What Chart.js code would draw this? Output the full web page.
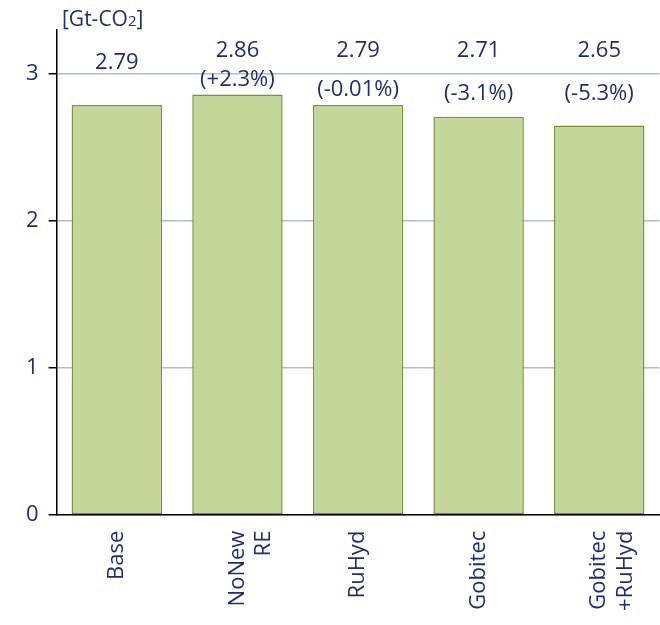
<!DOCTYPE html>
<html>
<head>
<meta charset="utf-8">
<script src="https://cdn.jsdelivr.net/npm/chart.js@4"></script>
<style>
  body { margin: 0; background: #fff; }
  #wrap { position: relative; width: 660px; height: 625px; }
  #unit { position: absolute; left: 62px; top: 4px; font: 21px 'Open Sans', sans-serif; color: #1f2f6a; }
</style>
</head>
<body>
<div id="wrap">
  <div id="unit">[Gt-CO<span style="font-size:15px">2</span>]</div>
  <canvas id="c" width="660" height="625"></canvas>
</div>
<script>
// Datos
const categories = [['Base'], ['NoNew', 'RE'], ['RuHyd'], ['Gobitec'], ['Gobitec', '+RuHyd']];
const emissions = [2.79, 2.86, 2.79, 2.71, 2.65];
const changes = ['', '(+2.3%)', '(-0.01%)', '(-3.1%)', '(-5.3%)'];
const ticks = [0, 1, 2, 3];

const navy = '#1f2f6a';

// Etiquetas encima de las barras
const labelPlugin = {
    id: 'barLabels',
    afterDatasetsDraw(chart) {
        const ctx = chart.ctx;
        const meta = chart.getDatasetMeta(0);
        const y = chart.scales.y;
        ctx.save();
        ctx.fillStyle = navy;
        ctx.font = "22px 'Open Sans', sans-serif";
        ctx.textAlign = 'center';
        ctx.textBaseline = 'middle';
        meta.data.forEach((bar, i) => {
            const txt = emissions[i].toFixed(2);
            if (!changes[i]) {
                ctx.fillText(txt, bar.x, bar.y - 42);
            } else {
                ctx.fillText(txt, bar.x, y.getPixelForValue(3.16));
                ctx.fillText(changes[i], bar.x, Math.min(bar.y - 15, 94));
            }
        });
        ctx.restore();
    }
};

new Chart(document.getElementById('c'), {
    type: 'bar',
    data: {
        labels: categories,
        datasets: [{
            data: emissions,
            backgroundColor: '#c4d79b',
            borderColor: '#77933c',
            borderWidth: 1.5,
            borderSkipped: false,
            categoryPercentage: 1,
            barPercentage: 0.75
        }]
    },
    options: {
        responsive: false,
        animation: false,
        layout: { padding: { top: 30, right: 0, left: 16, bottom: 6 } },
        plugins: { legend: { display: false }, tooltip: { enabled: false } },
        scales: {
            y: {
                min: 0,
                max: 3.3,
                afterBuildTicks(axis) { axis.ticks = ticks.map(v => ({ value: v })); },
                ticks: { color: navy, font: { size: 22, family: "'Open Sans', sans-serif" }, padding: 10 },
                grid: { color: '#b4bccc', lineWidth: 1.5, drawTicks: true, tickLength: 8, tickColor: '#000' },
                border: { color: '#000', width: 1.5 }
            },
            x: {
                ticks: { color: navy, font: { size: 22, family: "'Open Sans', sans-serif" }, maxRotation: 90, minRotation: 90, padding: 8 },
                grid: { display: false },
                border: { color: '#000', width: 1.5 }
            }
        }
    },
    plugins: [labelPlugin]
});
</script>
</body>
</html>
